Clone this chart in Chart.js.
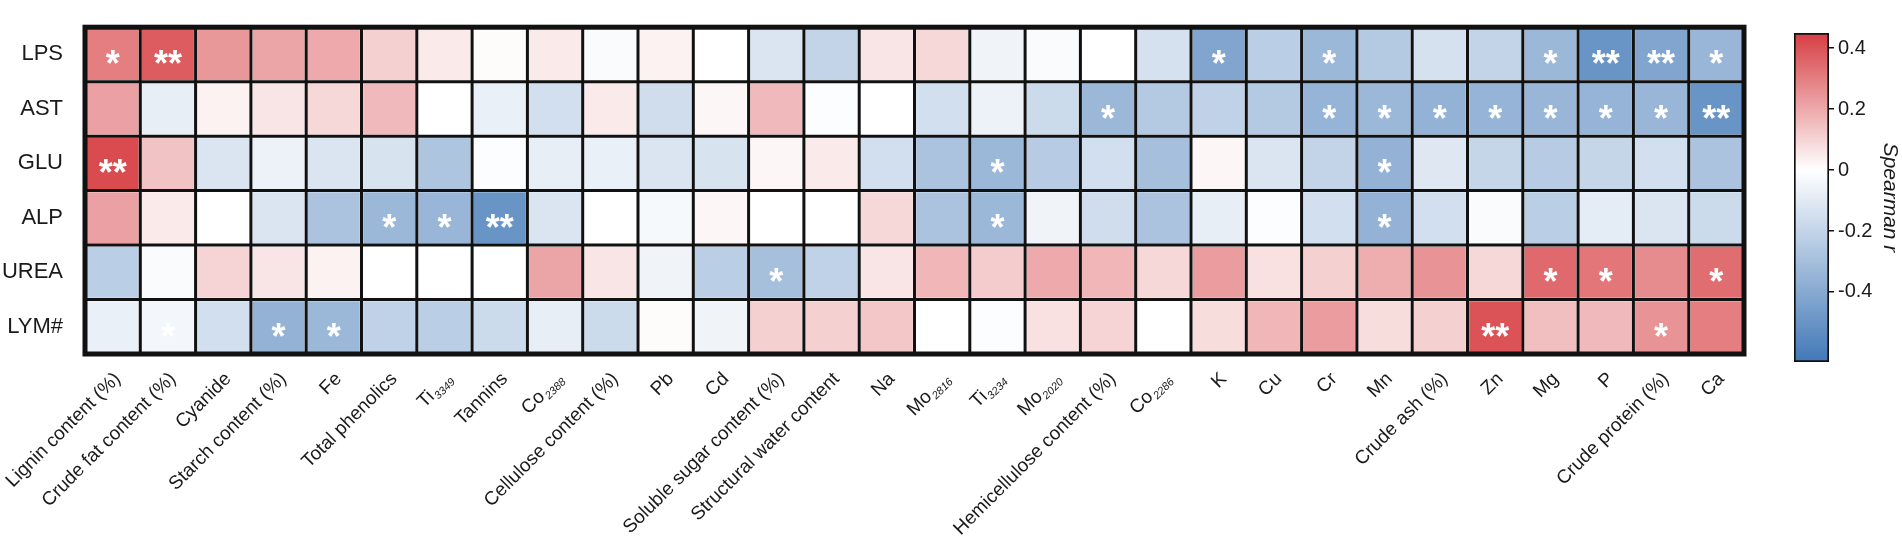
<!DOCTYPE html>
<html>
<head>
<meta charset="utf-8">
<script src="https://cdn.jsdelivr.net/npm/chart.js@4.4.1/dist/chart.umd.min.js"></script>
<style>
  html, body { margin: 0; padding: 0; background: #fff; }
  #wrap { position: relative; width: 1902px; height: 540px; overflow: hidden; }
  #heat { position: absolute; left: 0; top: 0; }
  #scale { position: absolute; left: 1780px; top: 0; }
</style>
</head>
<body>
<div id="wrap">
  <canvas id="heat" width="1902" height="540"></canvas>
  <canvas id="scale" width="122" height="540"></canvas>
</div>
<script>
// rows (clinical indices) and columns (forage traits)
const rows = ['LPS', 'AST', 'GLU', 'ALP', 'UREA', 'LYM#'];
const cols = ['Lignin content (%)', 'Crude fat content (%)', 'Cyanide', 'Starch content (%)', 'Fe',
  'Total phenolics', 'Ti', 'Tannins', 'Co', 'Cellulose content (%)', 'Pb', 'Cd',
  'Soluble sugar content (%)', 'Structural water content', 'Na', 'Mo', 'Ti', 'Mo',
  'Hemicellulose content (%)', 'Co', 'K', 'Cu', 'Cr', 'Mn', 'Crude ash (%)', 'Zn', 'Mg', 'P',
  'Crude protein (%)', 'Ca'];
const colSubs = ['', '', '', '', '', '', '3349', '', '2388', '', '', '', '', '', '', '2816', '3234', '2020',
  '', '2286', '', '', '', '', '', '', '', '', '', ''];

// Spearman r per row
const lps  = [0.30, 0.38, 0.24, 0.21, 0.20, 0.11, 0.05, 0.01, 0.05, -0.02, 0.03, 0.00, -0.12, -0.20, 0.06,
  0.09, -0.05, -0.02, 0.00, -0.14, -0.42, -0.23, -0.33, -0.25, -0.14, -0.20, -0.33, -0.50, -0.42, -0.34];
const ast  = [0.22, -0.08, 0.03, 0.06, 0.09, 0.16, 0.00, -0.07, -0.15, 0.05, -0.16, 0.02, 0.16, -0.01, 0.00,
  -0.15, -0.06, -0.17, -0.33, -0.25, -0.21, -0.25, -0.35, -0.33, -0.36, -0.35, -0.34, -0.35, -0.34, -0.50];
const glu  = [0.42, 0.14, -0.12, -0.06, -0.12, -0.13, -0.27, -0.01, -0.08, -0.07, -0.12, -0.13, 0.02, 0.05, -0.15,
  -0.28, -0.33, -0.24, -0.15, -0.30, 0.02, -0.12, -0.20, -0.36, -0.11, -0.19, -0.24, -0.19, -0.15, -0.28];
const alp  = [0.22, 0.05, 0.00, -0.12, -0.28, -0.33, -0.34, -0.50, -0.12, 0.00, -0.03, 0.02, 0.00, 0.00, 0.09,
  -0.28, -0.33, -0.05, -0.16, -0.28, -0.08, -0.01, -0.15, -0.36, -0.15, -0.02, -0.23, -0.09, -0.12, -0.17];
const urea = [-0.23, -0.02, 0.10, 0.06, 0.03, 0.00, 0.00, 0.00, 0.21, 0.06, -0.05, -0.23, -0.30, -0.21, 0.06,
  0.17, 0.12, 0.20, 0.17, 0.09, 0.23, 0.07, 0.11, 0.19, 0.25, 0.09, 0.35, 0.32, 0.27, 0.34];
const lym  = [-0.07, -0.04, -0.15, -0.36, -0.33, -0.21, -0.23, -0.17, -0.08, -0.17, 0.01, -0.05, 0.11, 0.11, 0.13,
  0.00, -0.01, 0.07, 0.10, 0.00, 0.08, 0.17, 0.23, 0.08, 0.11, 0.40, 0.15, 0.16, 0.25, 0.30];

// significance marks
const lpsSig  = ['*', '**', '', '', '', '', '', '', '', '', '', '', '', '', '', '', '', '', '', '', '*', '', '*', '', '', '', '*', '**', '**', '*'];
const astSig  = ['', '', '', '', '', '', '', '', '', '', '', '', '', '', '', '', '', '', '*', '', '', '', '*', '*', '*', '*', '*', '*', '*', '**'];
const gluSig  = ['**', '', '', '', '', '', '', '', '', '', '', '', '', '', '', '', '*', '', '', '', '', '', '', '*', '', '', '', '', '', ''];
const alpSig  = ['', '', '', '', '', '*', '*', '**', '', '', '', '', '', '', '', '', '*', '', '', '', '', '', '', '*', '', '', '', '', '', ''];
const ureaSig = ['', '', '', '', '', '', '', '', '', '', '', '', '*', '', '', '', '', '', '', '', '', '', '', '', '', '', '*', '*', '', '*'];
const lymSig  = ['', '*', '', '*', '*', '', '', '', '', '', '', '', '', '', '', '', '', '', '', '', '', '', '', '', '', '**', '', '', '*', ''];

// colour bar range and ticks
const cbMin = -0.63;
const cbMax = 0.45;
const cbTicks = [0.4, 0.2, 0, -0.2, -0.4];

const rowVals = [lps, ast, glu, alp, urea, lym];
const rowSigs = [lpsSig, astSig, gluSig, alpSig, ureaSig, lymSig];

const RED = [214, 62, 66];
const BLUE = [66, 120, 183];
function colorFor(v) {
  const end = v >= 0 ? RED : BLUE;
  const t = Math.min(v >= 0 ? v / cbMax : v / cbMin, 1);
  const c = end.map(e => Math.round(255 + (e - 255) * t));
  return 'rgb(' + c.join(',') + ')';
}

const FONT = "'Liberation Sans', Arial, Helvetica, sans-serif";
Chart.defaults.font.family = FONT;
Chart.defaults.color = '#1a1a1a';

const heatPlugin = {
  id: 'heatDecor',
  afterDatasetsDraw(chart) {
    const ctx = chart.ctx;
    const xs = chart.scales.x, ys = chart.scales.y;
    const { left, right, top, bottom } = chart.chartArea;
    ctx.save();
    ctx.strokeStyle = '#111';
    ctx.lineWidth = 3;
    ctx.beginPath();
    for (let i = 1; i < cols.length; i++) {
      const x = (xs.getPixelForValue(i - 1) + xs.getPixelForValue(i)) / 2;
      ctx.moveTo(x, top); ctx.lineTo(x, bottom);
    }
    for (let r = 1; r < rows.length; r++) {
      const y = ys.getPixelForValue(r - 0.5);
      ctx.moveTo(left, y); ctx.lineTo(right, y);
    }
    ctx.stroke();
    ctx.lineWidth = 5;
    ctx.strokeRect(left, top, right - left, bottom - top);

    // significance stars
    ctx.fillStyle = '#ffffff';
    ctx.font = 'bold 36px ' + FONT;
    ctx.textAlign = 'center';
    ctx.textBaseline = 'alphabetic';
    rowSigs.forEach((sig, r) => {
      sig.forEach((s, c) => {
        if (!s) return;
        ctx.fillText(s, xs.getPixelForValue(c), ys.getPixelForValue(r) + 22);
      });
    });

    // rotated column labels with subscripts
    ctx.fillStyle = '#1a1a1a';
    ctx.textBaseline = 'middle';
    ctx.textAlign = 'left';
    cols.forEach((name, c) => {
      const mainFont = '19px ' + FONT;
      const subFont = 'italic 11px ' + FONT;
      ctx.font = mainFont;
      const wMain = ctx.measureText(name).width;
      ctx.font = subFont;
      const wSub = colSubs[c] ? ctx.measureText(colSubs[c]).width + 1 : 0;
      ctx.save();
      ctx.translate(xs.getPixelForValue(c) + 5, bottom + 22);
      ctx.rotate(-Math.PI / 4);
      ctx.font = mainFont;
      ctx.fillText(name, -(wMain + wSub), 0);
      if (wSub) {
        ctx.font = subFont;
        ctx.fillText(colSubs[c], -wSub + 1, 6);
      }
      ctx.restore();
    });
    ctx.restore();
  }
};

new Chart(document.getElementById('heat'), {
  type: 'bar',
  data: {
    labels: cols.map((c, i) => c + colSubs[i]),
    datasets: rowVals.map((vals, r) => ({
      label: rows[r],
      data: vals.map(() => [r - 0.5, r + 0.5]),
      backgroundColor: vals.map(colorFor),
      borderColor: '#ffffff',
      borderWidth: 2,
      borderSkipped: false,
      grouped: false,
      barPercentage: 1,
      categoryPercentage: 1
    }))
  },
  options: {
    responsive: false,
    animation: false,
    layout: { padding: { left: 0, right: 158, top: 9, bottom: 186 } },
    plugins: { legend: { display: false }, tooltip: { enabled: false } },
    scales: {
      x: { display: false },
      y: {
        min: -0.5,
        max: 5.5,
        reverse: true,
        grid: { display: false },
        border: { display: false },
        afterBuildTicks: axis => { axis.ticks = rows.map((_, i) => ({ value: i })); },
        afterFit: axis => { axis.width = 85; },
        ticks: {
          padding: 14,
          font: { size: 22 },
          color: '#1a1a1a',
          callback: v => rows[v]
        }
      }
    }
  },
  plugins: [heatPlugin]
});

// colour scale
new Chart(document.getElementById('scale'), {
  type: 'bar',
  data: {
    labels: [''],
    datasets: [{
      data: [[cbMin, cbMax]],
      backgroundColor: ctx => {
        const ca = ctx.chart.chartArea;
        if (!ca) return '#fff';
        const g = ctx.chart.ctx.createLinearGradient(0, ca.top, 0, ca.bottom);
        const z = cbMax / (cbMax - cbMin);
        g.addColorStop(0, colorFor(cbMax));
        g.addColorStop(z, colorFor(0));
        g.addColorStop(1, colorFor(cbMin));
        return g;
      },
      borderColor: '#111',
      borderWidth: 2,
      borderSkipped: false,
      barPercentage: 1,
      categoryPercentage: 1
    }]
  },
  options: {
    responsive: false,
    animation: false,
    layout: { padding: { left: 14, right: 0, top: 33, bottom: 178 } },
    plugins: { legend: { display: false }, tooltip: { enabled: false } },
    scales: {
      x: { display: false },
      y: {
        position: 'right',
        min: cbMin,
        max: cbMax,
        afterBuildTicks: axis => { axis.ticks = cbTicks.map(v => ({ value: v })); },
        afterFit: axis => { axis.width = 73; },
        grid: { drawOnChartArea: false, drawTicks: true, tickLength: 5, color: '#111', lineWidth: 1.5 },
        border: { display: false },
        ticks: { padding: 4, font: { size: 20 }, color: '#1a1a1a', callback: v => String(v) },
        title: { display: true, text: 'Spearman r', font: { size: 21, style: 'italic' }, color: '#1a1a1a', padding: 0 }
      }
    }
  }
});
</script>
</body>
</html>
